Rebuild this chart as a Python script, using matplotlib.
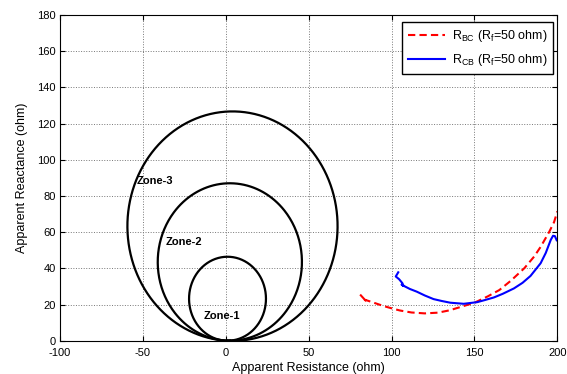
import matplotlib
matplotlib.use('Agg')
import matplotlib.pyplot as plt
import numpy as np

plt.rcParams['font.family'] = ['Liberation Sans', 'DejaVu Sans']
plt.rcParams['mathtext.fontset'] = 'custom'
plt.rcParams['mathtext.rm'] = 'Liberation Sans'
plt.rcParams['axes.unicode_minus'] = False

# Mho zone circles: (center R, center X, radius)
zone_names = ['Zone-1', 'Zone-2', 'Zone-3']
zone_cx = [1.0, 2.4, 4.0]
zone_cy = [23.2, 43.5, 63.3]
zone_r = [23.2, 43.5, 63.4]
label_pos = [(-13.3, 13.7), (-36.3, 54.4), (-53.8, 88.2)]

# impedance trajectories
r_bc = [81, 83, 85, 84, 88, 95, 100, 105, 112, 120, 128, 135, 140, 145, 150,
        158, 165, 172, 180, 186, 190, 195, 198, 200]
x_bc = [25.5, 23.5, 21.2, 22.6, 21.4, 19.2, 17.9, 16.7, 15.6, 15.1, 15.5, 16.8,
        18.2, 19.6, 21.0, 24.5, 28.0, 33.2, 40.0, 46.5, 52.0, 60.0, 65.5, 71.5]

r_cb = [104.0, 102.5, 104.5, 106.5, 107.2, 106.0, 108.0, 111.0, 115.2, 120.0,
        125.3, 130.0, 135.4, 143.5, 151.6, 156.0, 161.7, 167.0, 173.8, 179.0,
        183.8, 189.9, 193.0, 196.0, 197.4, 198.5, 199.6]
x_cb = [37.8, 35.5, 34.0, 31.8, 30.2, 31.0, 30.0, 28.6, 27.1, 25.0,
        23.0, 22.0, 21.0, 20.4, 21.3, 22.4, 23.9, 25.9, 28.9, 32.0,
        35.8, 42.8, 48.5, 55.7, 58.0, 57.8, 55.5]

fig = plt.figure(figsize=(5.67, 3.74), dpi=100)
ax = fig.add_axes([0.106, 0.089, 0.877, 0.871])

# start at the bottom so the seam hides on the axis
t = np.linspace(-np.pi / 2, 1.5 * np.pi, 400)
for cx, cy, r in zip(zone_cx, zone_cy, zone_r):
    ax.plot(cx + r * np.cos(t), cy + r * np.sin(t), color='black', lw=1.6)
for name, (lx, ly) in zip(zone_names, label_pos):
    ax.text(lx, ly, name, fontsize=8, fontweight='bold', va='center', ha='left')

ax.plot(r_bc, x_bc, color='red', ls=(0, (3.5, 2)), lw=1.5,
        label=r'R$_{\mathregular{BC}}$ (R$_{\mathregular{f}}$=50 ohm)')
ax.plot(r_cb, x_cb, color='blue', ls='-', lw=1.5,
        label=r'R$_{\mathregular{CB}}$ (R$_{\mathregular{f}}$=50 ohm)')

ax.set_xlim(-100, 200)
ax.set_ylim(0, 180)
ax.set_xticks(np.arange(-100, 201, 50))
ax.set_yticks(np.arange(0, 181, 20))
ax.grid(True, color='#777777', ls=':', lw=0.7)
ax.tick_params(direction='in', top=True, right=True, labelsize=8)
ax.tick_params(axis='x', pad=5)
ax.tick_params(axis='y', pad=3)
ax.set_xlabel('Apparent Resistance (ohm)', fontsize=9, labelpad=3)
ax.set_ylabel('Apparent Reactance (ohm)', fontsize=9, labelpad=7)

leg = ax.legend(loc='upper right', bbox_to_anchor=(0.992, 0.979),
                borderaxespad=0, fontsize=9, fancybox=False, framealpha=1,
                edgecolor='black', handlelength=3.0, handletextpad=0.5,
                labelspacing=0.65, borderpad=0.5)
leg.get_frame().set_linewidth(1.0)

fig.savefig('out.png', dpi=100)
